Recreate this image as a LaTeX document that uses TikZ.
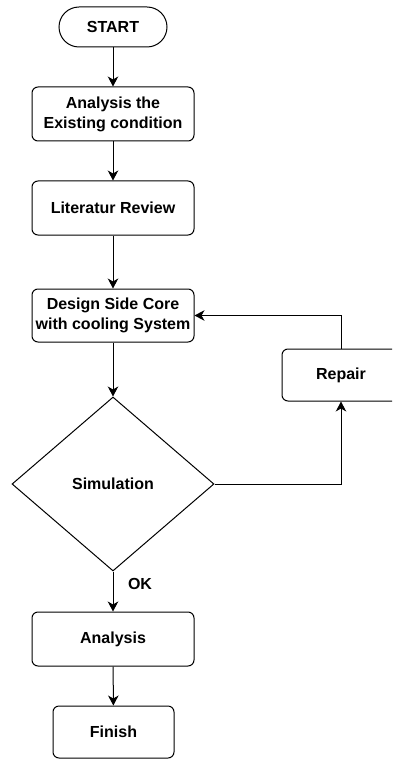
\documentclass[tikz,border=0pt]{standalone}
\usepackage{fontspec}
\setmainfont{Liberation Sans}
\usetikzlibrary{shapes.geometric,arrows.meta}
\begin{document}
\begin{tikzpicture}[x=1pt,y=-1pt,
  every node/.style={font=\fontsize{16}{20}\selectfont\bfseries, inner sep=0pt, align=center},
  box/.style={draw, line width=1pt, rounded corners=6pt, minimum width=162pt, minimum height=54pt},
  term/.style={draw, line width=1pt, rounded corners=20pt, minimum width=108pt, minimum height=40pt},
  decision/.style={draw, line width=1pt, diamond, minimum width=202pt, minimum height=174pt},
  conn/.style={draw, line width=1pt, -{Stealth[length=10pt,width=10.5pt,inset=3pt]}}
]
\useasboundingbox (0,0) rectangle (392,759);
\clip (0,0) rectangle (392,759);
\node[term] (start) at (113,27) {START};
\node[box] (a1) at (113,114) {Analysis the\\Existing condition};
\node[box] (a2) at (113,208) {Literatur Review};
\node[box, minimum height=53pt] (design) at (113,315.5) {Design Side Core\\with cooling System};
\node[decision] (sim) at (113,484) {Simulation};
\node[box, minimum width=130pt, minimum height=52pt] (repair) at (347,375) {};
\node (repairtext) at (341,375) {Repair};
\node[box] (analysis) at (113,639) {Analysis};
\node[box, minimum width=121pt, minimum height=52pt] (finish) at (113.5,732) {Finish};
\node (ok) at (140,584) {OK};
\draw[conn] (start) -- (a1);
\draw[conn] (a1) -- (a2);
\draw[conn] (a2) -- (design);
\draw[conn] (design) -- (sim);
\draw[conn] (sim) -- (analysis);
\draw[conn] (analysis) -- (finish);
\draw[conn] (sim.east) -| (repairtext |- repair.south);
\draw[conn] (repairtext |- repair.north) |- (design.east);
\end{tikzpicture}
\end{document}
